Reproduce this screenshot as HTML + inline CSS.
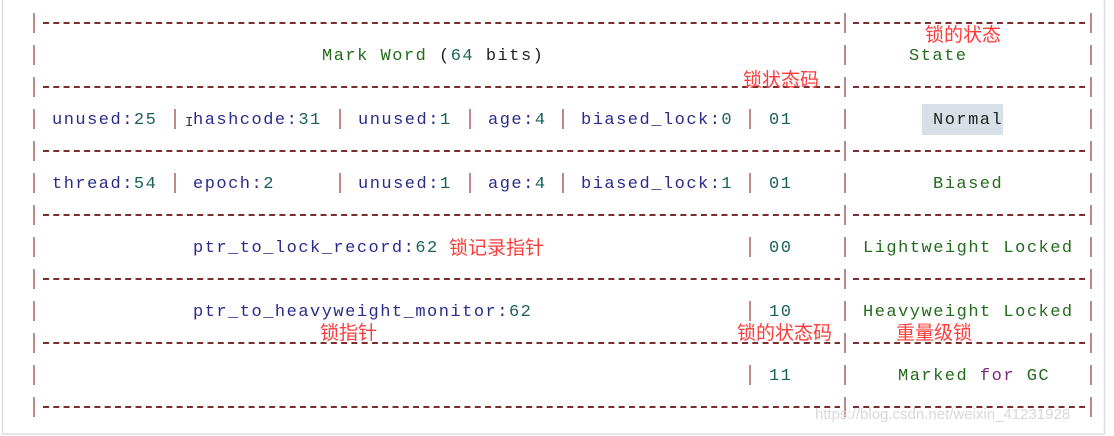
<!DOCTYPE html>
<html><head><meta charset="utf-8"><style>
html,body{margin:0;padding:0;background:#fff;}
#c{position:relative;width:1114px;height:436px;overflow:hidden;font-family:"Liberation Mono",monospace;font-size:17px;}
.t{position:absolute;line-height:20px;white-space:pre;letter-spacing:1.5px;}
.n{color:#2b2b8c}.d{color:#1b6356}.g{color:#226b1c}.p{color:#7b2a7d}.k{color:#222}
.r{position:absolute;color:#ff3b3b;font-family:"Liberation Sans","Noto Sans CJK SC",sans-serif;font-size:19px;line-height:22px;white-space:pre;}
</style></head><body><div id="c">
<svg width="1114" height="436" style="position:absolute;left:0;top:0">
<line x1="2.5" y1="0" x2="2.5" y2="434" stroke="#ddd" stroke-width="1.5"/>
<line x1="1104.5" y1="0" x2="1104.5" y2="434" stroke="#ddd" stroke-width="1.5"/>
<line x1="2" y1="434" x2="1105" y2="434" stroke="#ddd" stroke-width="1.5"/>
<g stroke="#7a2e2e" stroke-width="2" stroke-dasharray="6 4.28">
<line x1="43" y1="23" x2="840" y2="23"/><line x1="853" y1="23" x2="1085" y2="23"/>
<line x1="43" y1="87" x2="840" y2="87"/><line x1="853" y1="87" x2="1085" y2="87"/>
<line x1="43" y1="151" x2="840" y2="151"/><line x1="853" y1="151" x2="1085" y2="151"/>
<line x1="43" y1="215" x2="840" y2="215"/><line x1="853" y1="215" x2="1085" y2="215"/>
<line x1="43" y1="279" x2="840" y2="279"/><line x1="853" y1="279" x2="1085" y2="279"/>
<line x1="43" y1="343" x2="840" y2="343"/><line x1="853" y1="343" x2="1085" y2="343"/>
<line x1="43" y1="407" x2="840" y2="407"/><line x1="853" y1="407" x2="1085" y2="407"/>
</g>
<g stroke="#b36b6b" stroke-width="1.6">
<path d="M34 13V33M34 45V65M34 77V97M34 109V129M34 141V161M34 173V193M34 205V225M34 237V257M34 269V289M34 301V321M34 333V353M34 365V385M34 397V417"/>
<path d="M845 13V33M845 45V65M845 77V97M845 109V129M845 141V161M845 173V193M845 205V225M845 237V257M845 269V289M845 301V321M845 333V353M845 365V385M845 397V417"/>
<path d="M1091 13V33M1091 45V65M1091 77V97M1091 109V129M1091 141V161M1091 173V193M1091 205V225M1091 237V257M1091 269V289M1091 301V321M1091 333V353M1091 365V385M1091 397V417"/>
<path d="M175 109V129M340 109V129M470 109V129M563 109V129M750 109V129"/>
<path d="M175 173V193M340 173V193M470 173V193M563 173V193M750 173V193"/>
<path d="M750 237V257M750 301V321M750 365V385"/>
</g>
<rect x="922" y="104" width="81" height="31" fill="#d8dfe6"/>
</svg>
<div class="t" style="left:322px;top:47px"><span class="g">Mark Word</span> <span class="k">(</span><span class="d">64</span><span class="k"> bits)</span></div>
<div class="t g" style="left:909px;top:47px">State</div>
<div class="t" style="left:52px;top:111px"><span class="n">unused:</span><span class="d">25</span></div>
<div class="t" style="left:193px;top:111px"><span class="n">hashcode:</span><span class="d">31</span></div>
<div class="t" style="left:358px;top:111px"><span class="n">unused:</span><span class="d">1</span></div>
<div class="t" style="left:488px;top:111px"><span class="n">age:</span><span class="d">4</span></div>
<div class="t" style="left:581px;top:111px"><span class="n">biased_lock:</span><span class="d">0</span></div>
<div class="t d" style="left:769px;top:111px">01</div>
<div class="t k" style="left:933px;top:111px">Normal</div>
<div class="t" style="left:52px;top:175px"><span class="n">thread:</span><span class="d">54</span></div>
<div class="t" style="left:193px;top:175px"><span class="n">epoch:</span><span class="d">2</span></div>
<div class="t" style="left:358px;top:175px"><span class="n">unused:</span><span class="d">1</span></div>
<div class="t" style="left:488px;top:175px"><span class="n">age:</span><span class="d">4</span></div>
<div class="t" style="left:581px;top:175px"><span class="n">biased_lock:</span><span class="d">1</span></div>
<div class="t d" style="left:769px;top:175px">01</div>
<div class="t g" style="left:933px;top:175px">Biased</div>
<div class="t" style="left:193px;top:239px"><span class="n">ptr_to_lock_record:</span><span class="d">62</span></div>
<div class="t d" style="left:769px;top:239px">00</div>
<div class="t g" style="left:863px;top:239px">Lightweight Locked</div>
<div class="t" style="left:193px;top:303px"><span class="n">ptr_to_heavyweight_monitor:</span><span class="d">62</span></div>
<div class="t d" style="left:769px;top:303px">10</div>
<div class="t g" style="left:863px;top:303px">Heavyweight Locked</div>
<div class="t d" style="left:769px;top:367px">11</div>
<div class="t" style="left:898px;top:367px"><span class="g">Marked</span> <span class="p">for</span> <span class="g">GC</span></div>
<div class="t" style="left:185px;top:113px;color:#333;font-size:14px">I</div>
<div class="r" style="left:925px;top:25px">锁的状态</div>
<div class="r" style="left:743px;top:70px">锁状态码</div>
<div class="r" style="left:449px;top:238px">锁记录指针</div>
<div class="r" style="left:320px;top:323px">锁指针</div>
<div class="r" style="left:737px;top:323px">锁的状态码</div>
<div class="r" style="left:896px;top:323px">重量级锁</div>
<div style="position:absolute;left:815px;top:406px;color:#d8d8d8;font-family:'Liberation Sans',sans-serif;font-size:15px;white-space:pre">https://blog.csdn.net/weixin_41231928</div>
</div></body></html>
